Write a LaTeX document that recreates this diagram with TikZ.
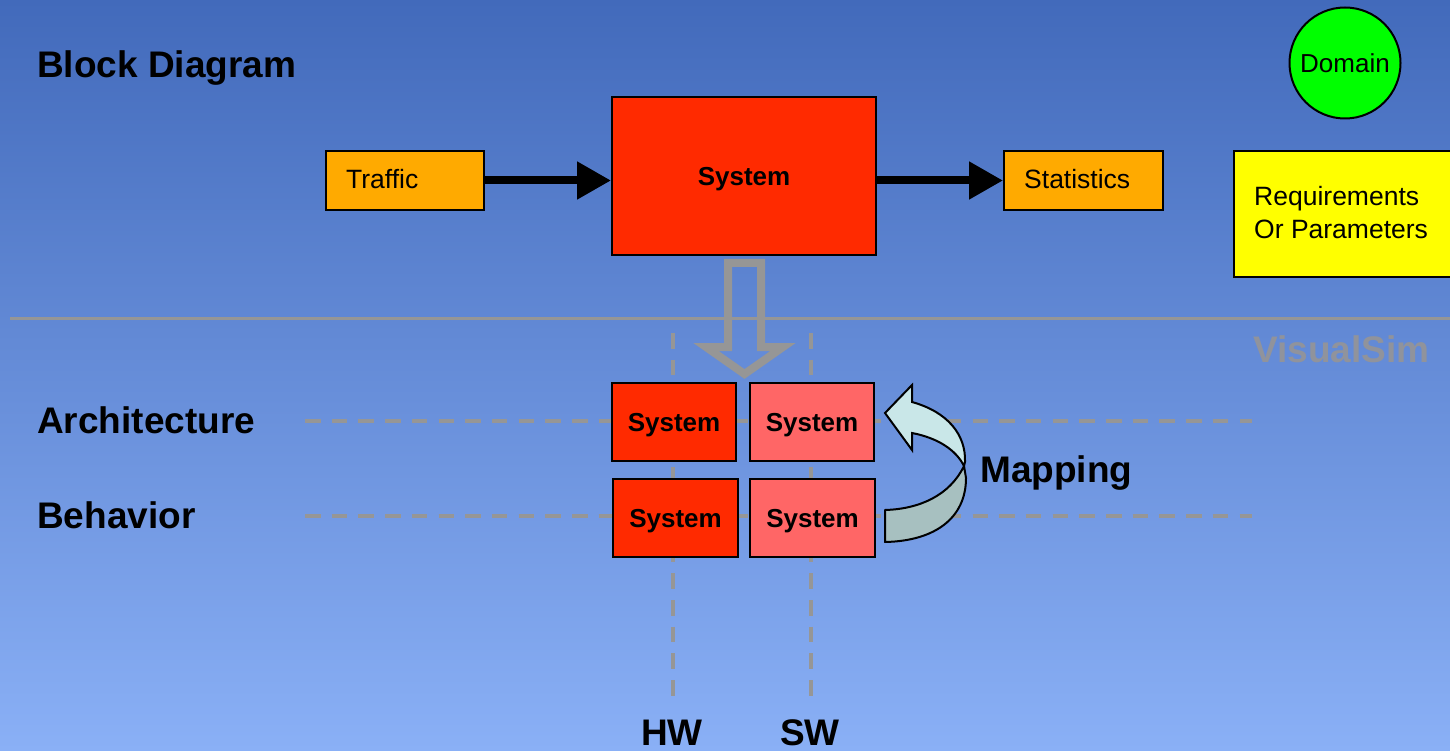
\documentclass[tikz,border=0pt]{standalone}
\usepackage{fontspec}
\setmainfont{Liberation Sans}
\usetikzlibrary{arrows.meta,calc}

\definecolor{bgtop}{RGB}{66,106,187}
\definecolor{bgbot}{RGB}{138,176,246}
\definecolor{sysred}{RGB}{255,42,0}
\definecolor{swpink}{RGB}{255,102,102}
\definecolor{orangebox}{RGB}{255,170,0}
\definecolor{reqyellow}{RGB}{255,255,0}
\definecolor{domgreen}{RGB}{0,255,0}
\definecolor{guide}{RGB}{150,150,150}
\definecolor{wmark}{RGB}{144,147,156}
\definecolor{maplight}{RGB}{201,231,232}
\definecolor{mapdark}{RGB}{167,192,192}

\begin{document}
\begin{tikzpicture}[x=1pt,y=-1pt,
  block/.style={draw=black,line width=2pt,inner sep=0pt},
  lbl/.style={anchor=base west,inner sep=0pt,font=\fontsize{26.5}{30}\selectfont},
  heading/.style={anchor=base west,inner sep=0pt,font=\fontsize{37}{40}\selectfont\bfseries},
  systxt/.style={font=\fontsize{26}{30}\selectfont\bfseries,text depth=0pt},
  smallsys/.style={block,minimum width=124pt,minimum height=78pt,systxt},
  flow/.style={line width=8pt,-{Triangle[length=34pt,width=36pt]}},
  guideline/.style={guide,line width=3.5pt,dash pattern=on 15.5pt off 11.2pt},
]
% background
\useasboundingbox (0,0) rectangle (1450,751);
\fill[top color=bgtop,bottom color=bgbot] (0,0) rectangle (1450,751);

% separator and guide lines
\draw[guide,line width=3pt] (10,318) -- (1450,318);
\draw[guideline] (305,421) -- (1252,421);
\draw[guideline] (305,516) -- (1252,516);
\draw[guideline] (673,333) -- (673,700);
\draw[guideline] (811,333) -- (811,700);

% watermark
\node[heading,text=wmark] (vsim) at (1253,362) {VisualSim};

% headings
\node[heading] (hblock) at (37,78) {Block Diagram};
\node[heading] (harch) at (37,433) {Architecture};
\node[heading] (hbeh) at (37,528) {Behavior};
\node[heading] (hmap) at (980,482) {Mapping};
\node[heading] (hhw) at (641,745) {HW};
\node[heading] (hsw) at (780,745) {SW};

% block diagram row
\node[block,fill=orangebox,minimum width=158pt,minimum height=59pt] (traffic) at (405,180.5) {};
\node[lbl] at (346,189) {Traffic};
\node[block,fill=sysred,minimum width=264pt,minimum height=158pt,systxt] (system) at (744,176) {System};
\node[block,fill=orangebox,minimum width=159pt,minimum height=59pt] (stats) at (1083.5,180.5) {};
\node[lbl] at (1024,189) {Statistics};
\node[block,fill=reqyellow,minimum width=226pt,minimum height=126pt] (req) at (1347,214) {};
\node[lbl] at (1254,206) {Requirements};
\node[lbl] at (1254,239) {Or Parameters};
\node[block,circle,fill=domgreen,minimum size=111pt,font=\fontsize{26}{30}\selectfont] (domain) at (1345,63) {Domain};

\draw[flow] (traffic.east) -- (traffic.east -| system.west);
\draw[flow] (system.east |- stats.west) -- (stats.west);

% hollow refinement arrow
\draw[guide,line width=8pt,line join=miter]
  ($(system.south)+(-16,7)$) -- ($(system.south)+(17,7)$) -- ($(system.south)+(17,91)$)
  -- ($(system.south)+(39,91)$) -- ($(system.south)+(0.5,118)$) -- ($(system.south)+(-38,91)$)
  -- ($(system.south)+(-16,91)$) -- cycle;

% architecture / behavior grid
\node[smallsys,fill=sysred] (hwarch) at (674,422) {System};
\node[smallsys,fill=swpink] (swarch) at (812,422) {System};
\node[smallsys,fill=sysred,minimum width=125pt] (hwbeh) at (675.5,518) {System};
\node[smallsys,fill=swpink,minimum width=125pt] (swbeh) at (812.5,518) {System};

% curved mapping arrow
\filldraw[fill=mapdark,draw=black,line width=2pt,line join=round]
  (964,466) .. controls (950,495) and (920,509) .. (885,510)
  -- (885,542) .. controls (935,541) and (966,518) .. (966,478) -- cycle;
\filldraw[fill=maplight,draw=black,line width=2pt,line join=miter]
  (885,413) -- (912,385) -- (912,402)
  .. controls (948,412) and (966,435) .. (965,462) -- (964,466)
  .. controls (956,450) and (938,438) .. (912,433) -- (912,450) -- cycle;
\end{tikzpicture}
\end{document}
